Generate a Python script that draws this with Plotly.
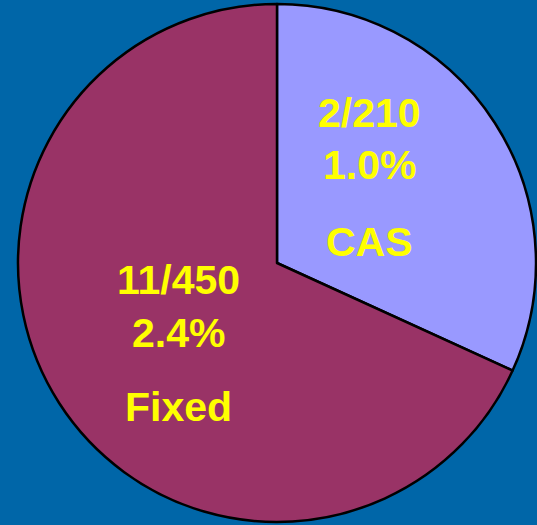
import plotly.graph_objects as go

# data
groups = ['CAS', 'Fixed']
totals = [210, 450]
events = [2, 11]
rates = ['1.0%', '2.4%']
colors = ['#9999FF', '#993366']

W, H = 537, 525
BG = '#0066A8'

fig = go.Figure()
fig.add_trace(go.Pie(
    labels=groups, values=totals, sort=False, direction='clockwise', rotation=0,
    marker=dict(colors=colors, line=dict(color='black', width=2.5)),
    textinfo='none', hoverinfo='skip', showlegend=False,
    domain=dict(x=[18 / W, 536 / W], y=[3 / H, 521 / H]),
))

# label positions (pixels) for each slice: centre x, and y of the three lines
label_pos = {'CAS': (369, [113, 165, 242]), 'Fixed': (178, [280, 333, 407])}
font = dict(family='Arial, Liberation Sans, sans-serif', size=41, color='#FFFF00')
for g, t, e, r in zip(groups, totals, events, rates):
    cx, ys = label_pos[g]
    for txt, py in zip([f'<b>{e}/{t}</b>', f'<b>{r}</b>', f'<b>{g}</b>'], ys):
        fig.add_annotation(x=cx / W, y=1 - py / H, xref='paper', yref='paper',
                           text=txt, showarrow=False, font=font,
                           xanchor='center', yanchor='middle')

fig.update_layout(
    width=W, height=H, margin=dict(l=0, r=0, t=0, b=0),
    paper_bgcolor=BG, plot_bgcolor=BG,
)
# drop the browser's default page margin so the chart fills the window
fig.write_html('out.html', config={'displayModeBar': False}, post_script=(
    "document.body.style.margin='0';"
    "document.body.style.overflow='hidden';"
    f"document.body.style.background='{BG}';"
))
